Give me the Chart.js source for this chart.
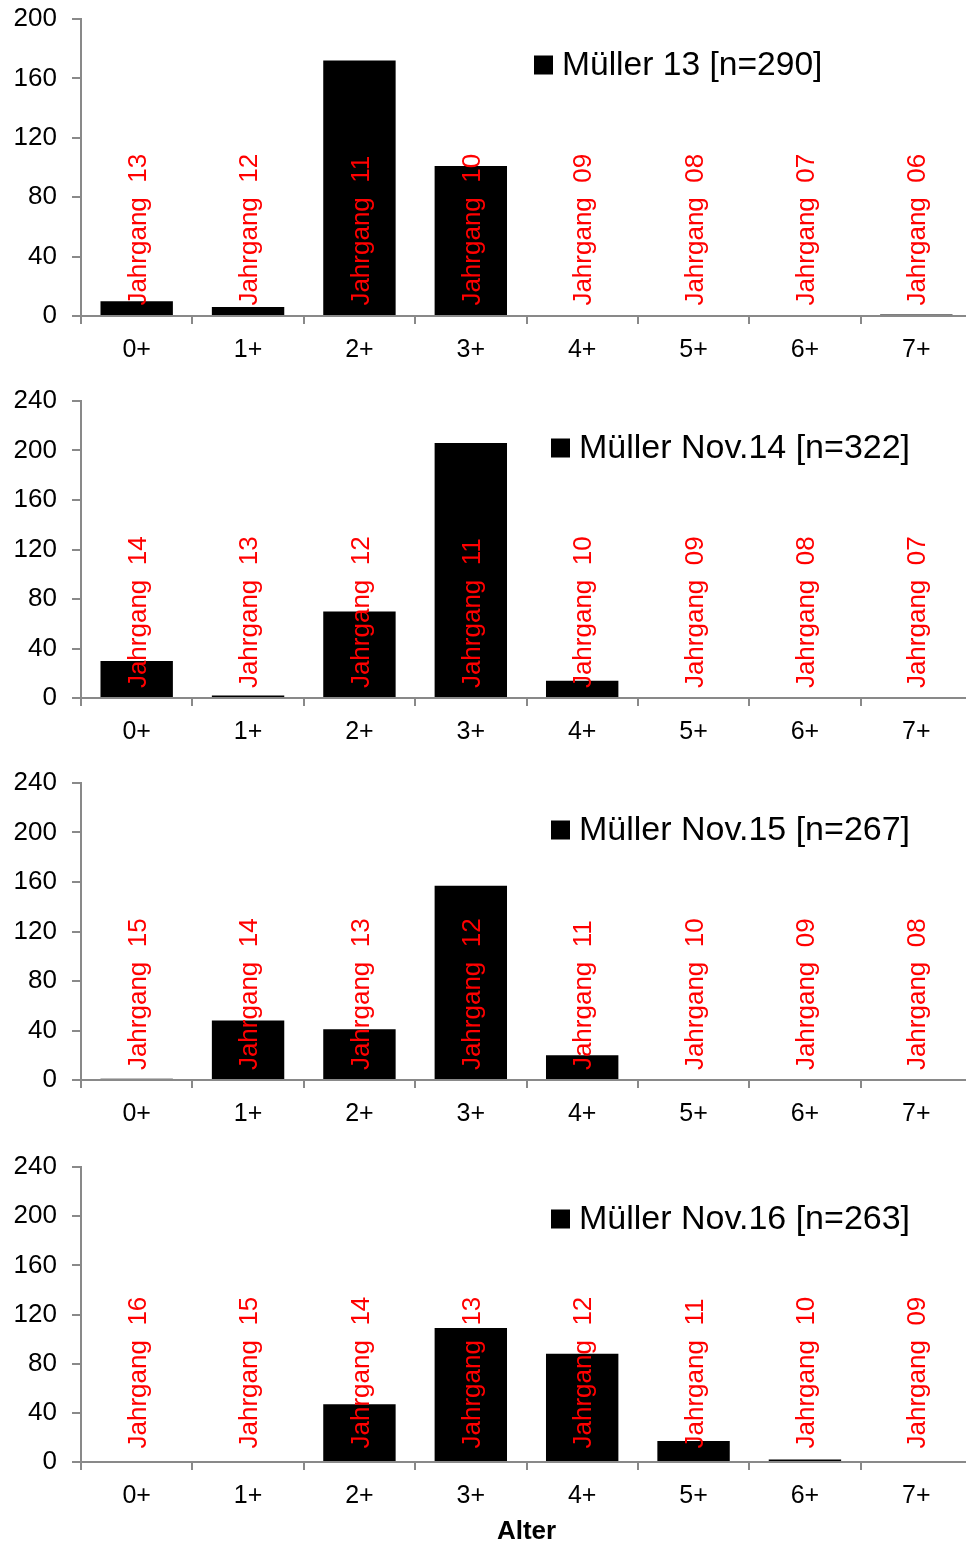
<!DOCTYPE html>
<html lang="de">
<head>
<meta charset="utf-8">
<title>Altersstruktur Müller</title>
<script src="https://cdn.jsdelivr.net/npm/chart.js@4.4.1/dist/chart.umd.min.js"></script>
<style>
  html, body { margin: 0; padding: 0; background: #fff; overflow: hidden; }
  body { width: 966px; height: 1542px; position: relative; }
  .panel { position: absolute; left: 0; }
</style>
</head>
<body>
<div class="panel" style="top:0px"><canvas id="c13" width="972" height="383"></canvas></div>
<div class="panel" style="top:383px"><canvas id="c14" width="972" height="383"></canvas></div>
<div class="panel" style="top:766px"><canvas id="c15" width="972" height="383"></canvas></div>
<div class="panel" style="top:1149px"><canvas id="c16" width="972" height="393"></canvas></div>
<script>
const ageClasses = ['0+', '1+', '2+', '3+', '4+', '5+', '6+', '7+'];

// Fangzahlen je Altersklasse
const counts13    = [10, 6, 172, 101, 0, 0, 0, 1];
const countsNov14 = [30, 2, 70, 206, 14, 0, 0, 0];
const countsNov15 = [1, 48, 41, 157, 20, 0, 0, 0];
const countsNov16 = [0, 0, 47, 109, 88, 17, 2, 0];

// Jahrgang je Altersklasse
const years13    = ['13', '12', '11', '10', '09', '08', '07', '06'];
const yearsNov14 = ['14', '13', '12', '11', '10', '09', '08', '07'];
const yearsNov15 = ['15', '14', '13', '12', '11', '10', '09', '08'];
const yearsNov16 = ['16', '15', '14', '13', '12', '11', '10', '09'];

const seriesNames = ['Müller 13 [n=290]', 'Müller Nov.14 [n=322]', 'Müller Nov.15 [n=267]', 'Müller Nov.16 [n=263]'];
const yMaxValues = [200, 240, 240, 240];

const FONT = '"Liberation Sans", Arial, sans-serif';
const AXIS_GREY = '#898989';

Chart.defaults.font.family = FONT;
Chart.defaults.color = '#000';

// rote "Jahrgang" Beschriftung, senkrecht über jeder Altersklasse
const jahrgangLabels = {
  id: 'jahrgangLabels',
  afterDatasetsDraw(chart, args, opts) {
    const { ctx } = chart;
    const xs = chart.scales.x, ys = chart.scales.y;
    ctx.save();
    ctx.fillStyle = '#ff0000';
    ctx.font = '26px ' + FONT;
    ctx.textAlign = 'left';
    ctx.textBaseline = 'middle';
    opts.years.forEach((yr, i) => {
      ctx.save();
      ctx.translate(xs.getPixelForValue(i) + 2, ys.getPixelForValue(opts.base));
      ctx.rotate(-Math.PI / 2);
      ctx.fillText('Jahrgang  ' + yr, 0, 0);
      ctx.restore();
    });
    ctx.restore();
  }
};

// Legende mit schwarzem Kästchen
const boxLegend = {
  id: 'boxLegend',
  afterDraw(chart, args, opts) {
    const { ctx } = chart;
    ctx.save();
    ctx.fillStyle = '#000';
    ctx.fillRect(opts.x, opts.y - 9.5, 19, 19);
    ctx.font = opts.size + 'px ' + FONT;
    ctx.textAlign = 'left';
    ctx.textBaseline = 'middle';
    ctx.fillText(chart.data.datasets[0].label, opts.x + 28, opts.y + 1);
    ctx.restore();
  }
};

function makeChart(id, counts, years, name, yMax, lay) {
  return new Chart(document.getElementById(id), {
    type: 'bar',
    data: {
      labels: ageClasses,
      datasets: [{
        label: name,
        data: counts,
        backgroundColor: '#000',
        borderWidth: 0,
        barPercentage: 0.65,
        categoryPercentage: 1.0
      }]
    },
    options: {
      responsive: false,
      animation: false,
      layout: { padding: { top: lay.padTop, left: 0, right: 0, bottom: 0 } },
      plugins: {
        legend: { display: false },
        tooltip: { enabled: false },
        jahrgangLabels: { years: years, base: lay.labelBase },
        boxLegend: { x: lay.legendX, y: lay.legendY, size: lay.legendSize }
      },
      scales: {
        x: {
          grid: { display: true, drawOnChartArea: false, drawTicks: true, tickLength: 8, color: AXIS_GREY, lineWidth: 2, offset: true },
          border: { display: true, color: AXIS_GREY, width: 2 },
          ticks: { font: { size: 25 }, color: '#000', padding: 11 },
          title: {
            display: lay.showTitle,
            text: 'Alter',
            font: { size: 26, weight: 'bold', lineHeight: 0.8 },
            color: '#000',
            padding: 0
          },
          afterFit(scale) { scale.height = lay.axisH; }
        },
        y: {
          min: 0,
          max: yMax,
          grid: { display: true, drawOnChartArea: false, drawTicks: true, tickLength: 9, color: AXIS_GREY, lineWidth: 2 },
          border: { display: true, color: AXIS_GREY, width: 2 },
          ticks: { stepSize: 40, font: { size: 26 }, color: '#000', padding: 15 },
          afterFit(scale) {
            scale.width = 81;
            scale.paddingTop = 0;
            scale.paddingBottom = 0;
          }
        }
      }
    },
    plugins: [jahrgangLabels, boxLegend]
  });
}

makeChart('c13', counts13, years13, seriesNames[0], yMaxValues[0],
  { padTop: 19, axisH: 67, labelBase: 7, legendX: 534, legendY: 65, legendSize: 33.6, showTitle: false });
makeChart('c14', countsNov14, yearsNov14, seriesNames[1], yMaxValues[1],
  { padTop: 18, axisH: 68, labelBase: 8, legendX: 551, legendY: 65, legendSize: 34, showTitle: false });
makeChart('c15', countsNov15, yearsNov15, seriesNames[2], yMaxValues[2],
  { padTop: 17, axisH: 69, labelBase: 8, legendX: 551, legendY: 64, legendSize: 34, showTitle: false });
makeChart('c16', countsNov16, yearsNov16, seriesNames[3], yMaxValues[3],
  { padTop: 18, axisH: 80, labelBase: 11, legendX: 551, legendY: 70, legendSize: 34, showTitle: true });
</script>
</body>
</html>
